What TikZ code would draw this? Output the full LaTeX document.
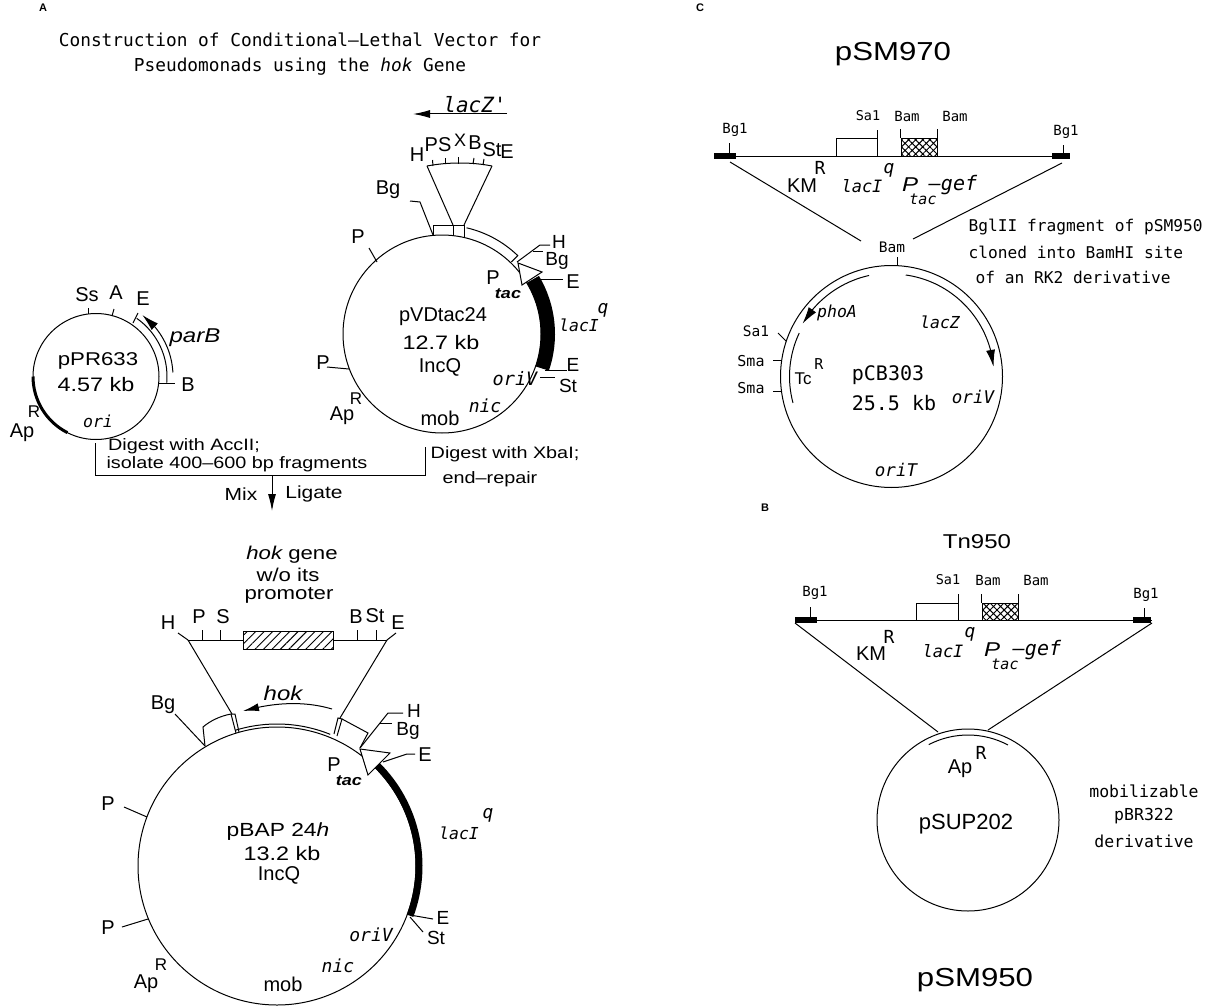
\documentclass[tikz,border=0pt]{standalone}
\usepackage{fontspec}
\setmainfont{Liberation Sans}
\newfontfamily\monof{DejaVu Sans Mono}
\newfontfamily\widef[FakeStretch=1.2]{Liberation Sans}
\usetikzlibrary{arrows.meta,patterns.meta,bending}
\tikzset{
  lab/.style={font=\fontsize{#1}{#1}\selectfont,inner sep=0pt},
  lab/.default=20,
  wlab/.style={font=\widef\fontsize{#1}{#1}\selectfont,inner sep=0pt},
  ilab/.style={font=\widef\itshape\fontsize{#1}{#1}\selectfont,inner sep=0pt},
  ilab/.default=20,
  blab/.style={font=\bfseries\fontsize{#1}{#1}\selectfont,inner sep=0pt},
  mlab/.style={font=\monof\fontsize{#1}{#1}\selectfont,inner sep=0pt},
  mlab/.default=16,
  milab/.style={font=\monof\itshape\fontsize{#1}{#1}\selectfont,inner sep=0pt},
  milab/.default=16,
  plasmid/.style={circle,draw,inner sep=0pt,minimum size=#1},
  thick arc/.style={draw,line width=#1,line cap=butt},
  headarrow/.style={draw,-{Latex[length=17pt,width=9pt,flex]}},
  every path/.append style={line width=1pt}
}
\begin{document}
\begin{tikzpicture}[x=1pt,y=1pt]
\useasboundingbox (0,0) rectangle (1215,-1006);
\fill[white] (0,0) rectangle (1215,-1006);

%% ---------- Panel A titles
\node[blab=11] (lblA) at (43,-8) {A};
\node[mlab=17.8] (title1) at (300,-40) {Construction of Conditional–Lethal Vector for};
\node[mlab=17.8] (title2) at (300,-67) {Pseudomonads using the {\itshape hok} Gene};

%% ---------- pPR633
\node[plasmid=126pt] (ppr) at (96,-376.5) {};
\node[wlab=18.5] (pprn) at (98,-361) {pPR633};
\node[wlab=19.5] (pprk) at (96,-385) {4.57 kb};
\node[milab=16.5] (pprori) at (98,-421) {ori};
\draw[thick arc=3pt] (ppr.center) ++(180:63pt) arc[start angle=180,end angle=243,radius=63pt];
\draw (ppr.center) ++(55:71pt) arc[start angle=55,end angle=-5,radius=71pt];
\draw[headarrow] (ppr.center) ++(3:77pt) arc[start angle=3,end angle=53,radius=77pt];
\node[lab] (pprSs) at (87,-295) {Ss};
\node[lab] (pprA) at (116,-293) {A};
\node[lab] (pprE) at (143,-299) {E};
\node[lab] (pprB) at (188,-385) {B};
\node[ilab] (pprpar) at (195,-338) {parB};
\node[lab] (pprAp) at (22,-433) {Ap};
\node[lab=17] (pprR) at (34,-412) {R};
\draw (88,-308) -- (88,-313.5);
\draw (114,-309) -- (112,-316);
\draw (138,-313) -- (133,-323);
\draw (159,-383) -- (175,-383);

%% ---------- pVDtac24
\node[plasmid=198pt] (pvd) at (442,-334) {};
\node[lab] (pvdn) at (443,-317) {pVDtac24};
\node[wlab=19.5] (pvdk) at (441,-343) {12.7 kb};
\node[lab] (pvdi) at (440,-367) {IncQ};
% insert
\coordinate (pvdInsL) at (427,-166);
\coordinate (pvdInsR) at (492,-166);
\coordinate (pvdBoxL) at (453,-225);
\coordinate (pvdBoxR) at (464,-225);
\draw (pvdInsL) .. controls (448,-162) and (472,-162) .. (pvdInsR);
\draw (433,-166) -- (432.5,-160);
\draw (445,-164) -- (445,-158);
\draw (458,-163.5) -- (458,-157);
\draw (473,-164) -- (474,-158);
\draw (483,-165) -- (484,-159);
\draw (pvdInsL) -- (pvdBoxL);
\draw (pvdInsR) -- (pvdBoxR);
\draw (433,-235) -- (433,-225) -- (464,-225) -- (464,-237);
\draw (453,-225) -- (453,-236);
\draw (pvd.center) ++(77:109pt) arc[start angle=77,end angle=46,radius=109pt] -- ++(-135:9pt);
% lacZ'
\node[milab=21] (lacz) at (475,-105) {lacZ'};
\coordinate (laczR) at (507,-114);
\coordinate (laczL) at (413,-114);
\draw[-{Latex[length=17pt,width=8pt]}] (laczR) -- (laczL);
\node[lab] (vH) at (417,-155) {H};
\node[lab] (vPS) at (438,-145) {PS};
\node[lab=18] (vX) at (460,-140) {X};
\node[lab] (vB) at (475,-143) {B};
\node[lab] (vSt) at (492,-150) {St};
\node[lab] (vE) at (507,-152) {E};
% sites
\node[lab] (vBg) at (388,-190) {Bg};
\draw (433,-235) -- (420,-202) -- (410,-201);
\node[lab] (vP1) at (358,-237) {P};
\draw (369,-248) -- (377,-262);
\node[lab] (vP2) at (323,-363) {P};
\draw (327,-367) -- (349,-369);
\node[lab=19] (vH2) at (559,-242) {H};
\node[lab=19] (vBg2) at (557,-261) {Bg};
\draw (517,-262) -- (540,-245) -- (550,-245);
\draw (533,-251) -- (543,-251);
\draw[fill=white] (518,-263) -- (542,-272) -- (522,-285) -- cycle;
\draw[thick arc=14pt] (pvd.center) ++(31:106pt) arc[start angle=31,end angle=-19,radius=106pt];
\node[lab] (vE2) at (573,-282) {E};
\draw (540,-279) -- (563,-279);
\node[lab] (vPt) at (493,-278) {P};
\node[font=\widef\bfseries\itshape\fontsize{15}{15}\selectfont,inner sep=0pt] (vtac) at (508,-294) {tac};
\node[milab=16.5] (vlac) at (579,-325) {lacI};
\node[milab=18] (vq) at (603,-310) {q};
\node[lab=19] (vE3) at (573,-365) {E};
\draw (545,-370) -- (567,-370);
\node[lab=19] (vSt2) at (568,-386) {St};
\draw (540,-377) -- (555,-377);
\node[milab=18.5] (vori) at (515,-379) {oriV};
\node[milab=18] (vnic) at (485,-406) {nic};
\node[lab] (vmob) at (440,-418) {mob};
\node[lab] (vAp) at (342,-416) {Ap};
\node[lab=17] (vR) at (356,-399) {R};

%% ---------- Digest bracket
\coordinate (brL) at (95,-443);
\coordinate (brLb) at (95,-475);
\coordinate (brRb) at (425,-475);
\coordinate (brR) at (425,-447);
\draw (brL) -- (brLb) -- (brRb) -- (brR);
\coordinate (mixT) at (272,-475);
\coordinate (mixB) at (272,-511);
\draw[-{Latex[length=17pt,width=8pt]}] (mixT) -- (mixB);
\node[wlab=16.5] (dig1) at (184,-446) {Digest with AccII;};
\node[wlab=16.5] (dig2) at (237,-464) {isolate 400–600 bp fragments};
\node[wlab=16.5] (dig3) at (505,-454) {Digest with XbaI;};
\node[wlab=16.5] (dig4) at (490,-479) {end–repair};
\node[wlab=17.5] (mix) at (241,-494) {Mix};
\node[wlab=17.5] (lig) at (314,-494) {Ligate};

%% ---------- pBAP 24h
\node[plasmid=278pt] (pba) at (277,-866) {};
\node[wlab=19] (pban) at (278,-832) {pBAP 24{\itshape h}};
\node[wlab=19.5] (pbak) at (282,-854) {13.2 kb};
\node[lab] (pbai) at (279,-875) {IncQ};
\node[wlab=18.5] (bhok1) at (292,-555) {{\itshape hok} gene};
\node[wlab=18.5] (bhok2) at (288,-575) {w/o its};
\node[wlab=18.5] (bhok3) at (289,-595) {promoter};
\node[lab] (bH) at (168,-623) {H};
\node[lab] (bP) at (199,-617) {P};
\node[lab] (bS) at (223,-617) {S};
\node[lab] (bB) at (356,-617) {B};
\node[lab] (bSt) at (375,-616) {St};
\node[lab] (bE) at (398,-623) {E};
\coordinate (bInsL) at (188,-640);
\coordinate (bInsR) at (387,-640);
\node[draw,minimum width=90pt,minimum height=18pt,inner sep=0pt,pattern={Lines[angle=45,distance=6pt,line width=.9pt]}] (bhatch) at (288,-640) {};
\draw (bInsL) -- (bhatch.west);
\draw (bhatch.east) -- (bInsR);
\draw (202,-640) -- (202,-630);
\draw (220,-640) -- (220,-630);
\draw (357,-640) -- (357,-630);
\draw (376,-640) -- (376,-630);
\draw (bInsL) -- (178,-633);
\draw (bInsR) -- (396,-633);
\coordinate (bBoxL) at (232,-714);
\coordinate (bBoxR) at (340,-718);
\draw (bInsL) -- (bBoxL);
\draw (bInsR) -- (bBoxR);
\node[ilab] (bhok) at (283,-693) {hok};
\coordinate (bhokR) at (332,-709);
\coordinate (bhokL) at (243,-711);
\draw[-{Latex[length=16pt,width=8pt]}] (bhokR) .. controls (305,-701) and (275,-702) .. (bhokL);
\draw (pba.center) ++(107:142pt) arc[start angle=107,end angle=68,radius=142pt];
% left box
\draw (205,-746) -- (203,-727) .. controls (210,-721) and (220,-716) .. (231,-714) -- (236,-733);
\draw (231,-714) -- (235,-714) -- (239,-732);
% right box
\draw (334,-734) -- (338,-718) -- (342,-719) -- (337,-736);
\draw (342,-719) -- (368,-733) -- (360,-748);
\node[lab] (bBg) at (163,-705) {Bg};
\draw (205,-746) -- (175,-714);
\node[lab=19] (bH2) at (414,-711) {H};
\node[lab=19] (bBg2) at (408,-731) {Bg};
\draw (360,-748) -- (388,-713) -- (403,-713);
\draw (380,-723) -- (392,-723);
\draw[fill=white] (360,-749) -- (390,-753) -- (368,-775) -- cycle;
\draw[thick arc=7pt] (pba.center) ++(45:142pt) arc[start angle=45,end angle=-20.5,radius=142pt];
\node[lab] (bE2) at (425,-755) {E};
\draw (383,-762) -- (407,-754) -- (415,-754);
\node[lab] (bPt) at (334,-765) {P};
\node[font=\widef\bfseries\itshape\fontsize{15}{15}\selectfont,inner sep=0pt] (btac) at (349,-781) {tac};
\node[milab=16.5] (blac) at (459,-833) {lacI};
\node[milab=18] (bq) at (488,-815) {q};
\node[lab=19] (bE3) at (443,-918) {E};
\draw (410,-915) -- (433,-919);
\node[lab=19] (bSt2) at (436,-938) {St};
\draw (410,-917) -- (423,-932);
\node[milab=18] (bori) at (371,-935) {oriV};
\node[milab=18] (bnic) at (338,-966) {nic};
\node[lab] (bmob) at (283,-984) {mob};
\node[lab] (bAp) at (146,-984) {Ap};
\node[lab=17] (bR) at (161,-965) {R};
\node[lab] (bP1) at (108,-804) {P};
\draw (124,-807) -- (147,-817);
\node[lab] (bP2) at (108,-928) {P};
\draw (122,-927) -- (148,-919);

%% ---------- Panel C
\node[blab=11] (lblC) at (700,-8) {C};
\node[wlab=26] (csm) at (893,-54) {pSM970};
\draw (714,-156) -- (1070,-156);
\fill (714,-159) rectangle (736,-153);
\fill (1052,-159) rectangle (1070,-153);
\draw (729,-156) -- (729,-143);
\draw (1063,-156) -- (1063,-145);
\node[mlab=14] (cBgl1) at (735,-130) {Bg1};
\node[mlab=14] (cBgl2) at (1066,-132) {Bg1};
\node[mlab=13.5] (cSal) at (868,-116) {Sa1};
\node[mlab=14] (cBam1) at (907,-116) {Bam};
\node[mlab=14] (cBam2) at (955,-116) {Bam};
\draw (836,-156) -- (836,-139) -- (877,-139) -- (877,-156);
\draw (877,-139) -- (877,-130);
\node[draw,minimum width=36pt,minimum height=17pt,inner sep=0pt,pattern={Hatch[angle=45,distance=5pt,line width=1pt]}] (chatch) at (919,-147.5) {};
\draw (chatch.north west) -- ++(0,9);
\draw (chatch.north east) -- ++(0,9);
\node[lab] (cKM) at (802,-186) {KM};
\node[mlab=18] (cKR) at (820,-168) {R};
\node[milab=17] (clac) at (862,-186) {lacI};
\node[milab=18] (cq) at (889,-170) {q};
\node[ilab=20] (cP) at (910,-185) {P};
\node[milab=15] (ctac) at (923,-199) {tac};
\node[milab=20] (cgef) at (953,-185) {–gef};
\node[mlab=14.5] (cBamT) at (892,-247) {Bam};
\node[plasmid=222pt] (pcb) at (891.5,-376.5) {};
\coordinate (cLeft) at (730,-162);
\coordinate (cLeftB) at (861,-241);
\coordinate (cRight) at (1062,-163);
\coordinate (cRightB) at (913,-239);
\draw (cLeft) -- (cLeftB);
\draw (cRight) -- (cRightB);
\draw (897,-257) -- (897,-265.5);
\node[mlab=16.2,anchor=west] (cnote1) at (968,-227) {BglII fragment of pSM950};
\node[mlab=16.2,anchor=west] (cnote2) at (968,-252) {cloned into BamHI site};
\node[mlab=16.2,anchor=west] (cnote3) at (975,-277) {of an RK2 derivative};
\draw[headarrow] (pcb.center) ++(82:102.5pt) arc[start angle=82,end angle=5.4,radius=102.5pt];
\draw[headarrow] (pcb.center) ++(102.5:103.5pt) arc[start angle=102.5,end angle=149.3,radius=103.5pt];
\draw (pcb.center) ++(154.8:102pt) arc[start angle=154.8,end angle=195,radius=102pt];
\node[mlab=14.5] (cSal2) at (756,-331) {Sa1};
\draw (778,-333) -- (786,-341);
\node[mlab=15] (cSma1) at (751,-361) {Sma};
\draw (773,-360) -- (782,-360);
\node[mlab=15] (cSma2) at (751,-388) {Sma};
\draw (773,-391) -- (781,-391);
\node[milab=16.5] (cpho) at (837,-313) {phoA};
\node[milab=16.5] (clacz) at (940,-322) {lacZ};
\node[lab=17] (cTc) at (803,-379) {Tc};
\node[mlab=15] (cTR) at (819,-364) {R};
\node[mlab=20] (cpcb) at (888,-375) {pCB303};
\node[mlab=20] (ckb) at (894,-403) {25.5 kb};
\node[milab=17.5] (coriV) at (973,-397) {oriV};
\node[milab=17.5] (coriT) at (896,-470) {oriT};

%% ---------- Panel B
\node[blab=11] (lblB) at (765,-508) {B};
\node[wlab=20] (dtn) at (977,-542) {Tn950};
\draw (795,-620) -- (1152,-620);
\fill (795,-623) rectangle (817,-617);
\fill (1133,-623) rectangle (1151,-617);
\draw (810,-620) -- (810,-607);
\draw (1144,-620) -- (1144,-608);
\node[mlab=14] (dBgl1) at (815,-593) {Bg1};
\node[mlab=14] (dBgl2) at (1146,-595) {Bg1};
\node[mlab=13.5] (dSal) at (948,-580) {Sa1};
\node[mlab=14] (dBam1) at (988,-580) {Bam};
\node[mlab=14] (dBam2) at (1036,-580) {Bam};
\draw (916,-620) -- (916,-603) -- (958,-603) -- (958,-620);
\draw (958,-603) -- (958,-594);
\node[draw,minimum width=36pt,minimum height=17pt,inner sep=0pt,pattern={Hatch[angle=45,distance=5pt,line width=1pt]}] (dhatch) at (1000,-611.5) {};
\draw (dhatch.north west) -- ++(0,9);
\draw (dhatch.north east) -- ++(0,9);
\node[lab] (dKM) at (871,-654) {KM};
\node[mlab=18] (dKR) at (889,-637) {R};
\node[milab=17] (dlac) at (943,-651) {lacI};
\node[milab=18] (dq) at (970,-634) {q};
\node[ilab=20] (dP) at (992,-650) {P};
\node[milab=15] (dtac) at (1005,-664) {tac};
\node[milab=20] (dgef) at (1037,-650) {–gef};
\node[plasmid=182pt] (psu) at (968,-820) {};
\coordinate (dLeft) at (795,-623);
\coordinate (dLeftB) at (938,-732);
\coordinate (dRight) at (1152,-623);
\coordinate (dRightB) at (988,-730);
\draw (dLeft) -- (dLeftB);
\draw (dRight) -- (dRightB);
\draw (psu.center) ++(117.5:85pt) arc[start angle=117.5,end angle=62,radius=85pt];
\node[lab] (dAp) at (960,-769) {Ap};
\node[mlab=18] (dR) at (981,-753) {R};
\node[lab=22] (dsup) at (966,-824) {pSUP202};
\node[mlab=16.5] (dn1) at (1144,-791) {mobilizable};
\node[mlab=16.5] (dn2) at (1144,-816) {pBR322};
\node[mlab=16.5] (dn3) at (1144,-841) {derivative};
\node[wlab=26] (dsm) at (975,-980) {pSM950};
\end{tikzpicture}
\end{document}
